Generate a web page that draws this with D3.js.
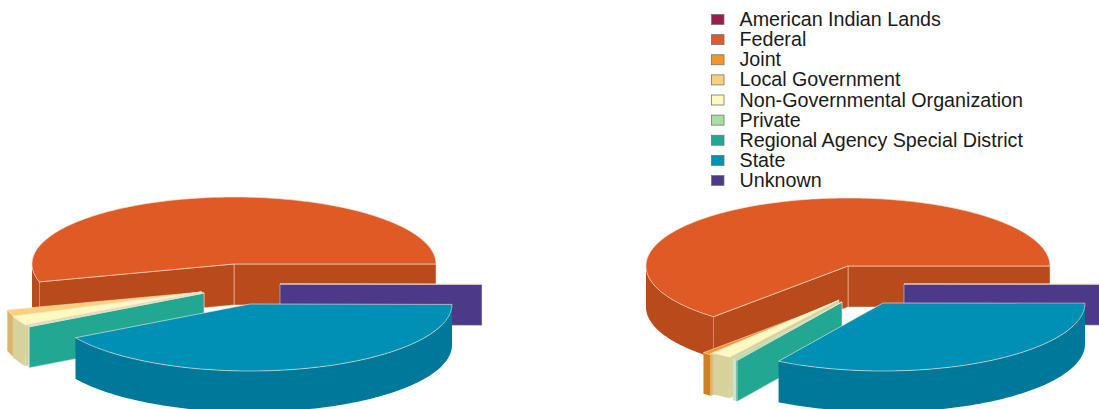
<!DOCTYPE html>
<html>
<head>
<meta charset="utf-8">
<script src="https://cdn.jsdelivr.net/npm/d3@7"></script>
<style>
html,body{margin:0;padding:0;background:#fff;overflow:hidden}
svg{display:block}
text{font-family:"Liberation Sans",Arial,sans-serif;fill:#1a1a1a}
</style>
</head>
<body>
<svg id="chart" width="1099" height="409"></svg>
<script>
const categories = ["American Indian Lands","Federal","Joint","Local Government","Non-Governmental Organization","Private","Regional Agency Special District","State","Unknown"];
const leftValues  = [0, 54.3, 0, 1.6, 2.3, 0.15, 0.05, 41.5, 0.1];
const rightValues = [0, 63.4, 0.7, 0.2, 1.6, 0.35, 0.1, 33.6, 0.05];
const colors   = ["#9c1c4e","#e05a25","#f0962c","#fbd07c","#fdf9c0","#a5e0a3","#22a892","#0090b6","#4c3a88"];
const wallCols = ["#7d163e","#b84a1c","#cf7f22","#dcb567","#d6d29c","#cfe3cb","#22a892","#00789a","#4c3a88"];
const leftShift  = [[0,0],[0,0],[-34,25],[-32,28],[-33,28],[-30,29],[-30,29],[16,40],[46,20]];
const rightShift = [[0,0],[0,0],[-10,36],[-10,35],[-9,34],[-6,36],[-6,36],[35,37],[56,18]];
const drawOrder = [0,1,8,2,3,4,5,6,7];
const RX = 202, DEPTH = 41, EDGE = "#f3e6d2";

const svg = d3.select("#chart");
const line = d3.line();
const pie = d3.pie().sort(null).startAngle(0).endAngle(2*Math.PI);

function drawPie(values, shifts, cx, cy, RY){
  const arcs = pie(values);
  const g = svg.append("g");
  drawOrder.forEach(i=>{
    if(values[i] <= 0) return;
    const tHigh = 2*Math.PI - arcs[i].startAngle;
    const tLow  = 2*Math.PI - arcs[i].endAngle;
    const ox = cx + shifts[i][0], oy = cy + shifts[i][1];
    const pt = (t,dz=0)=>[ox+RX*Math.cos(t), oy+RY*Math.sin(t)+dz];
    const samples = (a,b)=>{
      const n = Math.max(1,Math.ceil((b-a)/0.02));
      return d3.range(n+1).map(k=>a+(b-a)*k/n);
    };
    const sl = g.append("g").attr("class","slice");
    const wall = (a,b)=> sl.append("path")
      .attr("d", line([a,b,[b[0],b[1]+DEPTH],[a[0],a[1]+DEPTH]])+"Z")
      .attr("fill",wallCols[i]).attr("stroke",EDGE).attr("stroke-width",0.7).attr("stroke-opacity",0.7);
    if(Math.cos(tHigh)>0) wall([ox,oy],pt(tHigh));
    if(Math.cos(tLow)<0) wall([ox,oy],pt(tLow));
    const a0 = Math.max(tLow,0), a1 = Math.min(tHigh,Math.PI);
    if(a1>a0){
      const ss = samples(a0,a1);
      const d = ss.map(t=>pt(t)).concat(ss.slice().reverse().map(t=>pt(t,DEPTH)));
      sl.append("path").attr("d",line(d)+"Z").attr("fill",wallCols[i]);
    }
    const top = [[ox,oy]].concat(samples(tLow,tHigh).map(t=>pt(t)));
    sl.append("path").attr("d",line(top)+"Z").attr("fill",colors[i])
      .attr("stroke",EDGE).attr("stroke-width",0.8).attr("stroke-opacity",0.8).attr("stroke-linejoin","round");
  });
}
drawPie(leftValues,leftShift,234,264,67);
drawPie(rightValues,rightShift,848,266,68);

const y = d3.scalePoint().domain(categories).range([19.5,180.5]);
const legend = svg.append("g");
categories.forEach((c,i)=>{
  legend.append("rect").attr("x",711.5).attr("y",y(c)-5).attr("width",12.5).attr("height",10)
    .attr("fill",colors[i]).attr("stroke","#777").attr("stroke-width",0.8);
  legend.append("text").attr("x",739.5).attr("y",y(c)+6.5).attr("font-size",19.7).text(c);
});
</script>
</body>
</html>
